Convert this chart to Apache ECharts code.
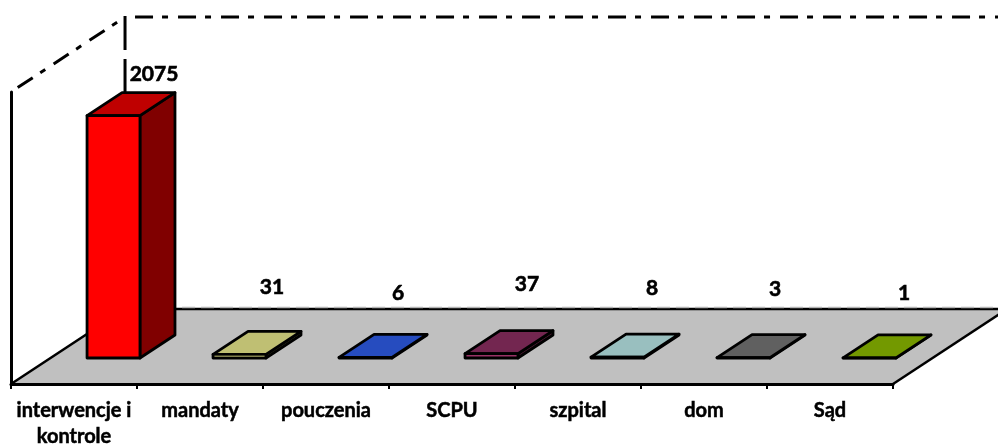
<!DOCTYPE html>
<html>
<head>
<meta charset="utf-8">
<style>html,body{margin:0;padding:0;background:#fff}#c{width:998px;height:445px}</style>
<script src="https://cdn.jsdelivr.net/npm/echarts@6/dist/echarts.min.js"></script>
</head>
<body>
<div id="c"></div>
<script>
const categories = ['interwencje i\nkontrole', 'mandaty', 'pouczenia', 'SCPU', 'szpital', 'dom', 'Sąd'];
const values = [2075, 31, 6, 37, 8, 3, 1];
const faceColors = ['#ff0000', '#ffff99', '#3366ff', '#993366', '#ccffff', '#808080', '#99cc00'];
const topColors  = ['#bf0000', '#bfbf73', '#264cbf', '#732650', '#99bfbf', '#606060', '#739900'];
const sideColors = ['#800000', '#80804d', '#1a3380', '#4d1a33', '#668080', '#404040', '#4d6600'];
const labelShiftX = [23, 15, 15, 18, 17, 14, 17];
const labelShiftY = [-30, -56, -53, -58, -57, -57, -53];
const axisMax = 2500;

const DEPTH_X = 0.905, DEPTH_Y = 0.595;   // floor depth, in category widths
const BAR_W = 0.42, BAR_D = 0.307;        // bar width (cat widths), bar depth (share of floor depth)
const INK = '#000';
const FONT = 'Lato, "Open Sans", sans-serif';

function renderRoom(params, api) {
  const catW = api.size([1, 0])[0];
  const a = api.coord([0, 0]), b = api.coord([categories.length - 1, axisMax]);
  const L = a[0] - catW / 2, R = b[0] + catW / 2, Y0 = a[1], YT = b[1];
  const dx = catW * DEPTH_X, dy = catW * DEPTH_Y;
  const wall = (shape, dash, off) => ({
    type: 'line', shape,
    style: { stroke: INK, lineWidth: 3, lineDash: dash, lineDashOffset: off || 0, fill: null }
  });
  return {
    type: 'group',
    children: [
      { type: 'polygon', shape: { points: [[L, Y0], [R, Y0], [R + dx, Y0 - dy], [L + dx, Y0 - dy]] },
        style: { fill: '#c0c0c0', stroke: null } },
      { type: 'polyline', shape: { points: [[L, Y0], [L + dx, Y0 - dy], [R + dx, Y0 - dy]] },
        style: { stroke: INK, lineWidth: 2.5, fill: null } },
      { type: 'polyline', shape: { points: [[R, Y0], [R + dx, Y0 - dy]] },
        style: { stroke: INK, lineWidth: 2.5, fill: null } },
      { type: 'line', shape: { x1: L + dx, y1: Y0 - dy - 1.5, x2: R + dx, y2: Y0 - dy - 1.5 },
        style: { stroke: '#b4b4b4', lineWidth: 1.5, lineDash: [13, 6], fill: null } },
      wall({ x1: L, y1: YT, x2: L + dx, y2: YT - dy }, [18, 9, 6, 10], 35),
      wall({ x1: L + dx, y1: YT - dy, x2: R + dx, y2: YT - dy }, [18, 9, 6, 10], 33),
      wall({ x1: L + dx, y1: YT - dy - 1, x2: L + dx, y2: Y0 - dy }, [34, 9, 400, 0])
    ]
  };
}

function renderBar(params, api) {
  const i = api.value(0), v = api.value(1);
  const catW = api.size([1, 0])[0];
  const base = api.coord([i, 0]), tip = api.coord([i, v]);
  const fullDx = catW * DEPTH_X, fullDy = catW * DEPTH_Y;
  const w = catW * BAR_W, dx = fullDx * BAR_D, dy = fullDy * BAR_D;
  const x0 = base[0] - w / 2 + (fullDx - dx) / 2;
  const yB = base[1] - (fullDy - dy) / 2;
  const yT = tip[1] - (fullDy - dy) / 2;
  const x1 = x0 + w;
  const border = { stroke: INK, lineWidth: 2.8, lineJoin: 'round' };
  const face = (points, fill) => ({ type: 'polygon', shape: { points }, style: Object.assign({ fill }, border) });
  return {
    type: 'group',
    children: [
      face([[x1, yB], [x1 + dx, yB - dy], [x1 + dx, yT - dy], [x1, yT]], sideColors[i]),
      face([[x0, yT], [x1, yT], [x1 + dx, yT - dy], [x0 + dx, yT - dy]], topColors[i]),
      face([[x0, yB], [x1, yB], [x1, yT], [x0, yT]], faceColors[i]),
      { type: 'text',
        style: { text: String(values[i]),
          x: x0 + w / 2 + dx / 2 + labelShiftX[i],
          y: yT - dy / 2 + labelShiftY[i],
          fill: INK, stroke: INK, lineWidth: 0.6,
          font: 'bold 21px ' + FONT, align: 'center', verticalAlign: 'middle' } }
    ]
  };
}

const chart = echarts.init(document.getElementById('c'), null, { width: 998, height: 445 });
chart.setOption({
  animation: false,
  backgroundColor: '#ffffff',
  grid: { left: 11, right: 105, top: 92, bottom: 61, containLabel: false, outerBoundsMode: 'none' },
  xAxis: {
    type: 'category', data: categories, z: 5,
    axisLine: { lineStyle: { color: INK, width: 3 } },
    axisTick: { show: true, alignWithLabel: false, length: 5, lineStyle: { color: INK, width: 2 } },
    axisLabel: { interval: 0, color: INK, fontFamily: FONT, fontWeight: 'bold', fontSize: 20, lineHeight: 26,
      margin: 14, hideOverlap: false, textBorderColor: INK, textBorderWidth: 0.5 }
  },
  yAxis: {
    type: 'value', min: 0, max: axisMax, interval: 500, z: 5,
    axisLine: { show: true, lineStyle: { color: INK, width: 3 } },
    axisTick: { show: false }, axisLabel: { show: false }, splitLine: { show: false }
  },
  series: [
    { type: 'custom', clip: false, silent: true, z: 1, renderItem: renderRoom, data: [[0, 0]] },
    { type: 'custom', clip: false, silent: true, z: 2, renderItem: renderBar,
      encode: { x: 0, y: 1 }, data: values.map((v, i) => [i, v]) }
  ]
});
</script>
</body>
</html>
